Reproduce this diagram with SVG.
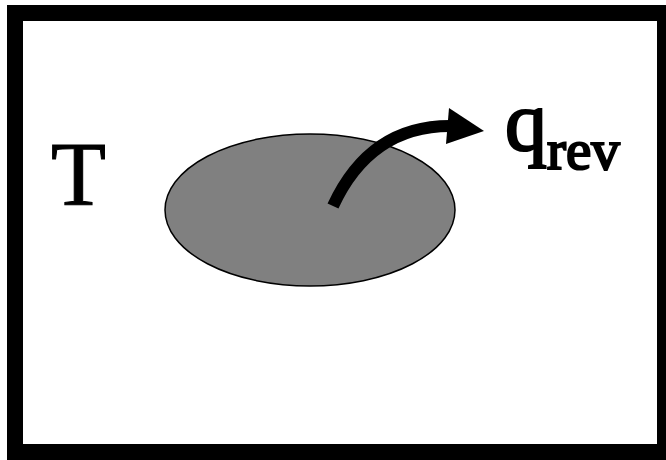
<svg xmlns="http://www.w3.org/2000/svg" width="666" height="460" viewBox="0 0 666 460">
<style>
.lbl{font-family:"Liberation Serif","Times New Roman",serif;fill:#000;stroke:#000;stroke-width:1}
.heavy{stroke-width:2.2}
</style>
<rect x="0" y="0" width="666" height="460" fill="#fff"/>
<rect id="frame" x="15" y="13" width="650" height="439" fill="#fff" stroke="#000" stroke-width="16"/>
<g id="body">
<ellipse cx="310" cy="210" rx="145" ry="76" fill="#808080" stroke="#000" stroke-width="1.5"/>
</g>
<g id="label-T">
<text class="lbl" x="78.5" y="205" font-size="90" text-anchor="middle">T</text>
</g>
<g id="label-q">
<text class="lbl heavy" x="505" y="150" font-size="84">q<tspan font-size="57" x="547" y="169">rev</tspan></text>
</g>
<g id="connectors">
<path d="M333,206 Q370,126 450,126" fill="none" stroke="#000" stroke-width="12"/>
<polygon points="449,108 484,131 446,144" fill="#000"/>
</g>
</svg>
